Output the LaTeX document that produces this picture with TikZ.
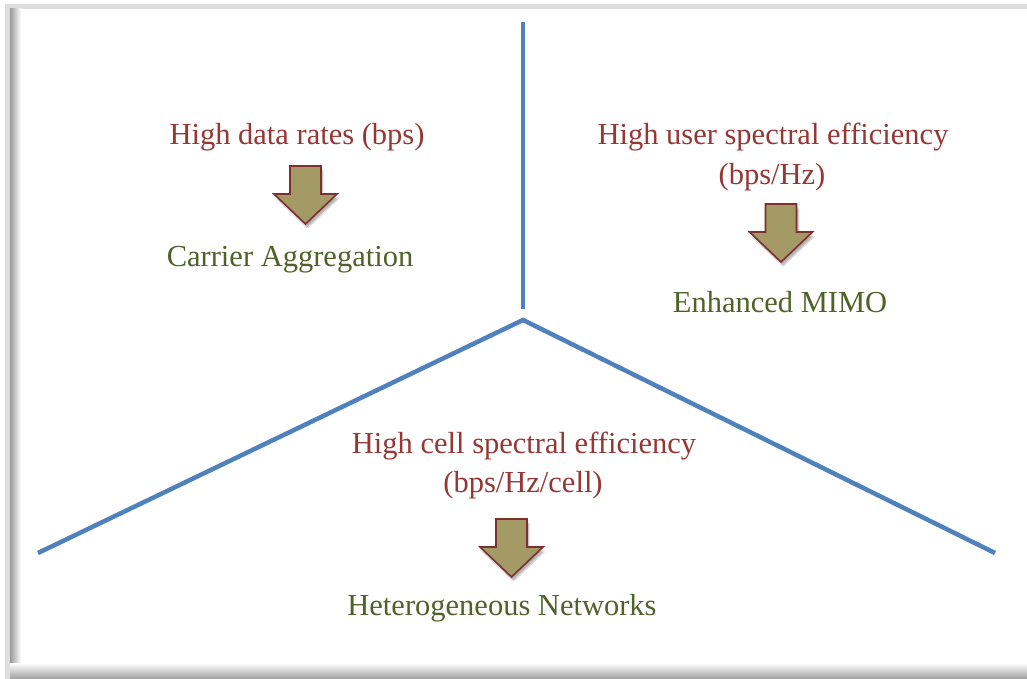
\documentclass[tikz,border=0pt]{standalone}
\usepackage{fontspec}
\setmainfont{Liberation Serif}
\usetikzlibrary{shadows}
\definecolor{goalred}{HTML}{953735}
\definecolor{answergreen}{HTML}{4F6228}
\definecolor{splitblue}{HTML}{4F81BD}
\definecolor{arrowfill}{HTML}{A39A65}
\definecolor{arrowedge}{HTML}{7F2F2F}
\definecolor{framegray}{HTML}{DEDEDE}
\tikzset{
  goal/.style={text=goalred, font=\fontsize{30.5}{40}\selectfont, anchor=base, inner sep=0pt},
  answer/.style={text=answergreen, font=\fontsize{30.5}{40}\selectfont, anchor=base, inner sep=0pt},
  divider/.style={draw=splitblue, line width=4.5pt},
  arrowshape/.style={fill=arrowfill, draw=arrowedge, line width=1.6pt, line join=miter},
  softshadow/.style={fill=black, opacity=0.07},
  downarrow/.pic={
    % soft shadow built from a few shifted translucent copies
    \foreach \dx/\dy in {1/2, 2/3, 3/4, 2/5, 1/4} {
      \fill[softshadow, shift={(\dx,\dy)}] (-15.5,0) -- (15.5,0) -- (15.5,28) -- (31.5,28)
        -- (0,58) -- (-31.5,28) -- (-15.5,28) -- cycle;
    }
    \path[arrowshape] (-15.5,0) -- (15.5,0) -- (15.5,28) -- (31.5,28) -- (0,58)
      -- (-31.5,28) -- (-15.5,28) -- cycle;
  }
}
\begin{document}
\begin{tikzpicture}[x=1pt,y=-1pt]
  \useasboundingbox (0,0) rectangle (1027,679);
  % page frame with its soft shadow
  \fill[white] (0,0) rectangle (1027,679);
  \fill[framegray] (5,4) rectangle (1027,679);
  \fill[white] (10,9) rectangle (1027,679);
  \shade[left color=black!40, right color=white] (10,9) rectangle (21,679);
  \shade[top color=white, bottom color=black!38] (10,663) rectangle (1027,679);

  % dividing lines
  \coordinate (vtop) at (523,22);
  \coordinate (vbot) at (523,309);
  \coordinate (apex) at (523,320);
  \coordinate (lend) at (38,553);
  \coordinate (rend) at (995,553);
  \draw[divider] (vtop) -- (vbot);
  \draw[divider, line join=miter] (lend) -- (apex) -- (rend);

  % top-left: data rates
  \node[goal] (rates) at (297,145) {High data rates (bps)};
  \pic at (305.5,166) {downarrow};
  \node[answer] (ca) at (290,266) {Carrier Aggregation};

  % top-right: user spectral efficiency
  \node[goal] (user1) at (773,145) {High user spectral efficiency};
  \node[goal] (user2) at (772,185) {(bps/Hz)};
  \pic at (781,204) {downarrow};
  \node[answer] (mimo) at (780,312) {Enhanced MIMO};

  % bottom: cell spectral efficiency
  \node[goal] (cell1) at (524,453) {High cell spectral efficiency};
  \node[goal] (cell2) at (523,492) {(bps/Hz/cell)};
  \pic at (511.5,519) {downarrow};
  \node[answer] (hetnet) at (502,615) {Heterogeneous Networks};
\end{tikzpicture}
\end{document}
